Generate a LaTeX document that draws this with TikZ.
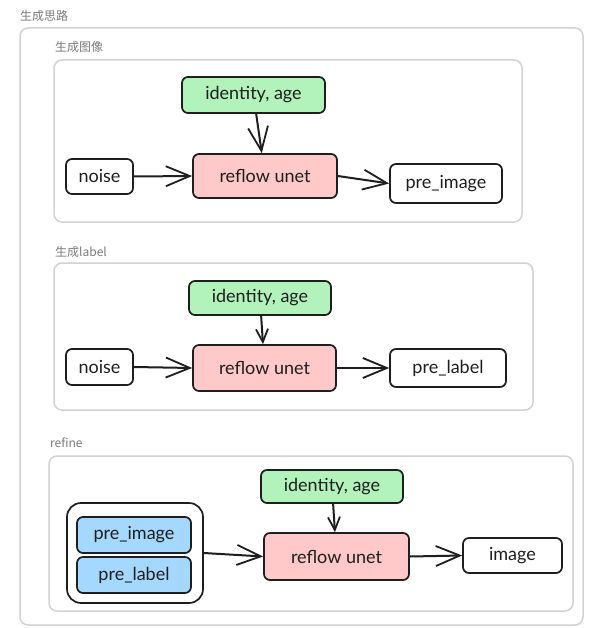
\documentclass[tikz,border=0pt]{standalone}
\usepackage{fontspec}
\setmainfont{Lato}
\newfontfamily\cjkfont{Noto Sans CJK SC}
\usetikzlibrary{arrows.meta}
\definecolor{grn}{HTML}{B2F2BB}
\definecolor{pnk}{HTML}{FFC9C9}
\definecolor{blu}{HTML}{A5D8FF}
\definecolor{frm}{HTML}{D2D2D2}
\definecolor{lbl}{HTML}{7A7A7A}
\definecolor{ink}{HTML}{1E1E1E}
\begin{document}
\begin{tikzpicture}[x=1pt,y=-1pt,
 box/.style={draw=ink, text=ink, line width=1.7pt, rounded corners=6pt, inner sep=0pt, fill=white,
   font=\fontsize{18}{20}\selectfont},
 frame/.style={draw=frm, line width=1.5pt, rounded corners=8pt},
 grplbl/.style={font=\cjkfont\fontsize{12}{14}\selectfont, text=lbl, anchor=west, inner sep=0pt},
 arr/.style={draw=ink, -{Straight Barb[length=24pt,width=20pt,line width=1.8pt]}, line width=2pt},
 smallarr/.style={draw=ink, -{Straight Barb[length=13pt,width=12pt,line width=1.8pt]}, line width=2pt},
 dims/.style n args={2}{minimum width=#1pt, minimum height=#2pt}
]
\useasboundingbox (0,0) rectangle (591,628);
\fill[white] (0,0) rectangle (591,628);

% frames
\node[grplbl] (t0) at (20,16) {生成思路};
\draw[frame] (20,28) rectangle (583,625);
\node[grplbl] (t1) at (55,47) {生成图像};
\draw[frame] (54,60) rectangle (522,222);
\node[grplbl] (t2) at (55,252) {生成label};
\draw[frame] (54,263) rectangle (533,410);
\node[grplbl] (t3) at (50,443) {refine};
\draw[frame] (49,456) rectangle (573,611);

% block 1
\node[box, fill=grn, dims={143}{36}] (id1) at (253.5,95) {identity, age};
\node[box, fill=pnk, dims={144}{44}] (rf1) at (265,176) {reflow unet};
\node[box, dims={67}{35}] (nz1) at (99.5,176.5) {noise};
\node[box, dims={112}{39}] (pi1) at (446,183.5) {pre\_image};
\draw[arr] (id1) -- (rf1);
\draw[arr] (nz1.east) -- (rf1.west);
\draw[arr] (rf1.east) -- (pi1.west);

% block 2
\node[box, fill=grn, dims={142}{34}] (id2) at (260,298) {identity, age};
\node[box, fill=pnk, dims={143}{46}] (rf2) at (264.5,368) {reflow unet};
\node[box, dims={67}{36}] (nz2) at (99.5,367) {noise};
\node[box, dims={116}{38}] (pl2) at (448,368) {pre\_label};
\draw[smallarr] (id2) -- (rf2);
\draw[arr] (nz2.east) -- (rf2.west);
\draw[arr] (rf2.east) -- (pl2.west);

% block 3
\node[box, fill=grn, dims={142}{33}] (id3) at (332,486.5) {identity, age};
\node[box, fill=pnk, dims={145}{47}] (rf3) at (336.5,556.5) {reflow unet};
\node[box, dims={99}{35}] (im3) at (512.5,555.5) {image};
\node[box, rounded corners=14pt, dims={136}{100}] (grp) at (135,553) {};
\node[box, fill=blu, dims={114}{36}] (pi3) at (134,535) {pre\_image};
\node[box, fill=blu, dims={114}{36}] (pl3) at (134,575) {pre\_label};
\draw[smallarr] (id3) -- (rf3);
\draw[arr] (grp.east) -- (rf3.west);
\draw[arr] (rf3.east) -- (im3.west);
\end{tikzpicture}
\end{document}
